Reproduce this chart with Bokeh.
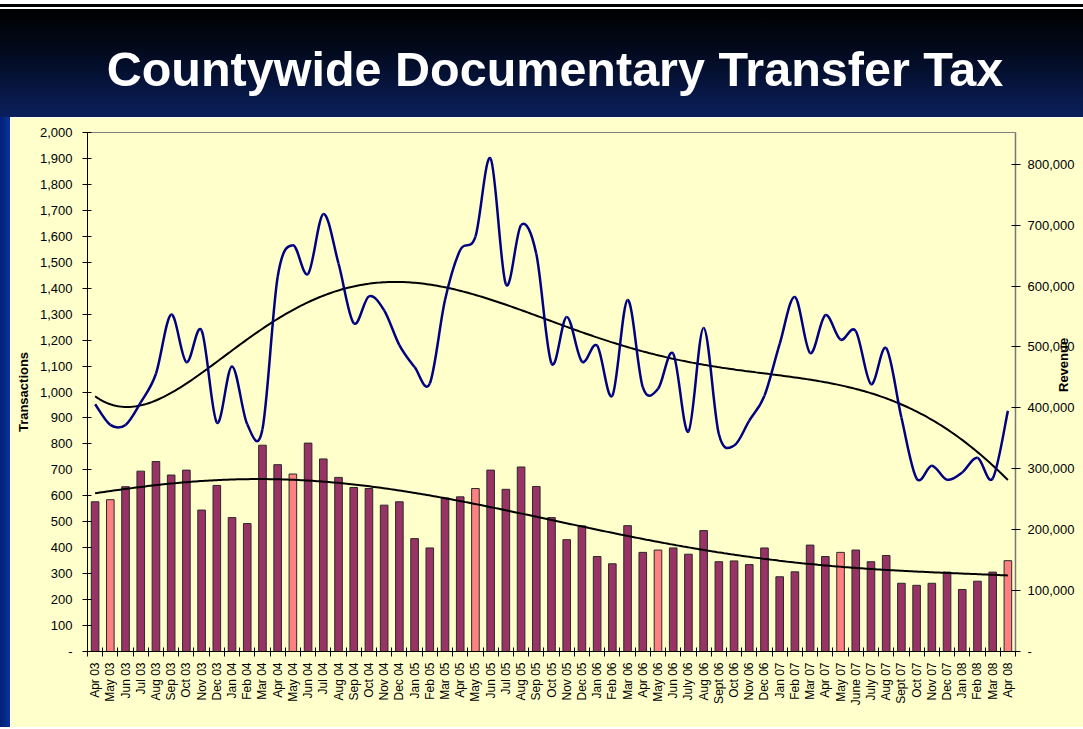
import math
import numpy as np
from bokeh.plotting import figure
from bokeh.models import Range1d, LinearAxis, FixedTicker, NumeralTickFormatter, ColumnDataSource, Div
from bokeh.layouts import column, row
from bokeh.embed import file_html
from bokeh.resources import INLINE

# ---------------- data ----------------
months = ["Apr 03", "May 03", "Jun 03", "Jul 03", "Aug 03", "Sep 03", "Oct 03", "Nov 03", "Dec 03",
          "Jan 04", "Feb 04", "Mar 04", "Apr 04", "May 04", "Jun 04", "Jul 04", "Aug 04", "Sep 04",
          "Oct 04", "Nov 04", "Dec 04", "Jan 05", "Feb 05", "Mar 05", "Apr 05", "May 05", "Jun 05",
          "Jul 05", "Aug 05", "Sep 05", "Oct 05", "Nov 05", "Dec 05", "Jan 06", "Feb 06", "Mar 06",
          "Apr 06", "May 06", "Jun 06", "July 06", "Aug 06", "Sept 06", "Oct 06", "Nov 06", "Dec 06",
          "Jan 07", "Feb 07", "Mar 07", "Apr 07", "May 07", "June 07", "July 07", "Aug 07", "Sept 07",
          "Oct 07", "Nov 07", "Dec 07", "Jan 08", "Feb 08", "Mar 08", "Apr 08"]

transactions = [577, 585, 635, 695, 732, 680, 699, 545, 640, 516,
                493, 795, 720, 684, 803, 742, 671, 632, 628, 564,
                577, 435, 399, 592, 596, 628, 699, 625, 711, 636,
                516, 431, 484, 366, 338, 485, 382, 391, 399, 375,
                466, 346, 349, 335, 399, 288, 307, 410, 366, 382,
                391, 346, 370, 263, 255, 263, 306, 239, 271, 306, 350]

revenue = [406000, 372000, 372000, 409000, 456000, 553000, 475000, 527000, 376000, 468000,
           373000, 365000, 615000, 667000, 620000, 718000, 637000, 539000, 583000, 560000,
           503000, 467000, 440000, 577000, 659000, 681000, 809000, 603000, 700000, 653000,
           473000, 549000, 476000, 502000, 420000, 577000, 434000, 431000, 489000, 361000,
           531000, 357000, 338000, 379000, 420000, 505000, 582000, 490000, 552000, 512000,
           526000, 439000, 498000, 384000, 284000, 305000, 282000, 294000, 318000, 284000, 395000]

highlight_months = ["May 03", "May 04", "May 05", "May 06", "May 07", "Apr 08"]

left_ticks = list(range(0, 2001, 100))
right_ticks = list(range(0, 800001, 100000))

# ---------------- style ----------------
FONT = "Liberation Sans"
CREAM = "#FFFFCC"
BAR = "#993366"
PINK = "#FF8080"
NAVY = "#000080"
EDGE = "#0a3399"

n = len(months)
xs = list(range(n))
colors = [PINK if m in highlight_months else BAR for m in months]

p = figure(width=1073, height=610,
           x_range=Range1d(-0.5, n - 0.5), y_range=Range1d(0, 2000),
           output_backend="svg", toolbar_location=None,
           min_border_left=77, min_border_right=68, min_border_top=15, min_border_bottom=76,
           background_fill_color=CREAM, border_fill_color=CREAM,
           outline_line_color="#808080", outline_line_width=1, margin=(0, 0, 0, 0))
p.extra_y_ranges = {"rev": Range1d(0, 852000)}
p.grid.visible = False

src = ColumnDataSource(dict(x=xs, top=transactions, color=colors))
p.vbar(x="x", top="top", width=0.5, fill_color="color", line_color="#2a2a2a", line_width=1, source=src)

# polynomial trend lines (fitted from the data)
xa_ = np.arange(n, dtype=float)
xf = np.linspace(0, n - 1, 400)
t_fit = np.polyfit(xa_ / 60.0, np.array(transactions, float), 6)
p.line(xf, np.polyval(t_fit, xf / 60.0), line_color="black", line_width=2)

r = np.array(revenue, float)
r_fit = np.polyfit(xa_ / 60.0, r, 6)
p.line(xf, np.polyval(r_fit, xf / 60.0), line_color="black", line_width=2, y_range_name="rev")

# smoothed revenue line (Bezier segments through each monthly value)
x0, y0, x1, y1, cx0, cy0, cx1, cy1 = [], [], [], [], [], [], [], []
for i in range(n - 1):
    ip = i - 1 if i > 0 else i
    inn = i + 2 if i + 2 < n else i + 1
    x0.append(xa_[i]); y0.append(r[i]); x1.append(xa_[i + 1]); y1.append(r[i + 1])
    cx0.append(xa_[i] + (xa_[i + 1] - xa_[ip]) / 6.0)
    cy0.append(r[i] + (r[i + 1] - r[ip]) / 6.0)
    cx1.append(xa_[i + 1] - (xa_[inn] - xa_[i]) / 6.0)
    cy1.append(r[i + 1] - (r[inn] - r[i]) / 6.0)
p.bezier(x0=x0, y0=y0, x1=x1, y1=y1, cx0=cx0, cy0=cy0, cx1=cx1, cy1=cy1,
         line_color=NAVY, line_width=2.5, y_range_name="rev")

# ---------------- axes ----------------
xa = p.xaxis[0]
xa.ticker = FixedTicker(ticks=xs, minor_ticks=[i - 0.5 for i in range(n + 1)])
xa.major_label_overrides = {i: m for i, m in enumerate(months)}
xa.major_label_orientation = math.pi / 2
xa.major_tick_in = 0
xa.major_tick_out = 0
xa.minor_tick_in = 4
xa.minor_tick_out = 5
xa.minor_tick_line_color = "black"
xa.axis_line_color = "black"
xa.major_label_standoff = 6
xa.major_label_text_font = FONT
xa.major_label_text_font_size = "12px"
xa.major_label_text_color = "black"

ya = p.yaxis[0]
ya.ticker = FixedTicker(ticks=left_ticks)
ya.formatter = NumeralTickFormatter(format="0,0")
ya.major_label_overrides = {0: "-"}
ya.major_tick_in = 4
ya.major_tick_out = 5
ya.minor_tick_in = 0
ya.minor_tick_out = 0
ya.major_tick_line_color = "black"
ya.axis_line_color = "black"
ya.major_label_standoff = 10
ya.major_label_text_font = FONT
ya.major_label_text_font_size = "13px"
ya.major_label_text_color = "black"
ya.axis_label = "Transactions"
ya.axis_label_text_font = FONT
ya.axis_label_text_font_size = "13px"
ya.axis_label_text_font_style = "bold"
ya.axis_label_text_color = "black"
ya.axis_label_standoff = 6

ra = LinearAxis(y_range_name="rev", ticker=FixedTicker(ticks=right_ticks),
                formatter=NumeralTickFormatter(format="0,0"))
ra.major_label_overrides = {0: "-"}
ra.major_tick_in = 4
ra.major_tick_out = 5
ra.minor_tick_in = 0
ra.minor_tick_out = 0
ra.major_tick_line_color = "black"
ra.axis_line_color = "#777777"
ra.axis_line_width = 1.5
ra.major_label_standoff = 7
ra.major_label_text_font = FONT
ra.major_label_text_font_size = "13px"
ra.major_label_text_color = "black"
ra.axis_label = "Revenue"
ra.axis_label_text_font = FONT
ra.axis_label_text_font_size = "13px"
ra.axis_label_text_font_style = "bold"
ra.axis_label_text_color = "black"
ra.axis_label_standoff = -14
try:
    ra.axis_label_orientation = math.pi / 2
except Exception:
    pass
p.add_layout(ra, "right")

# ---------------- frame pieces ----------------
header_html = (
    '<div style="width:1083px;height:117px;box-sizing:border-box;padding-top:19px;padding-left:27px;'
    'background:linear-gradient(to bottom,#ffffff 0px,#ffffff 4px,#000000 4px,#000000 7px,'
    '#ffffff 7px,#ffffff 9px,#000000 9px,#020818 45px,#0a1f5c 117px);'
    'color:#ffffff;font-family:\'Liberation Sans\',Arial,sans-serif;font-weight:bold;'
    'font-size:48.5px;line-height:100px;text-align:center;white-space:nowrap;overflow:hidden;">'
    'Countywide Documentary Transfer Tax</div>'
)
header = Div(text=header_html, width=1083, height=117, margin=(0, 0, 0, 0))
strip = Div(text='<div style="width:10px;height:610px;background:linear-gradient(to right,#001f77,%s);"></div>' % EDGE,
            width=10, height=610, margin=(0, 0, 0, 0))
bottom = Div(text='<div style="width:1083px;height:2px;background:%s;"></div>' % EDGE,
             width=1083, height=2, margin=(0, 0, 0, 0))

layout = column(header, row(strip, p, spacing=0), bottom, spacing=0)
open("out.html", "w").write(file_html(layout, INLINE))
